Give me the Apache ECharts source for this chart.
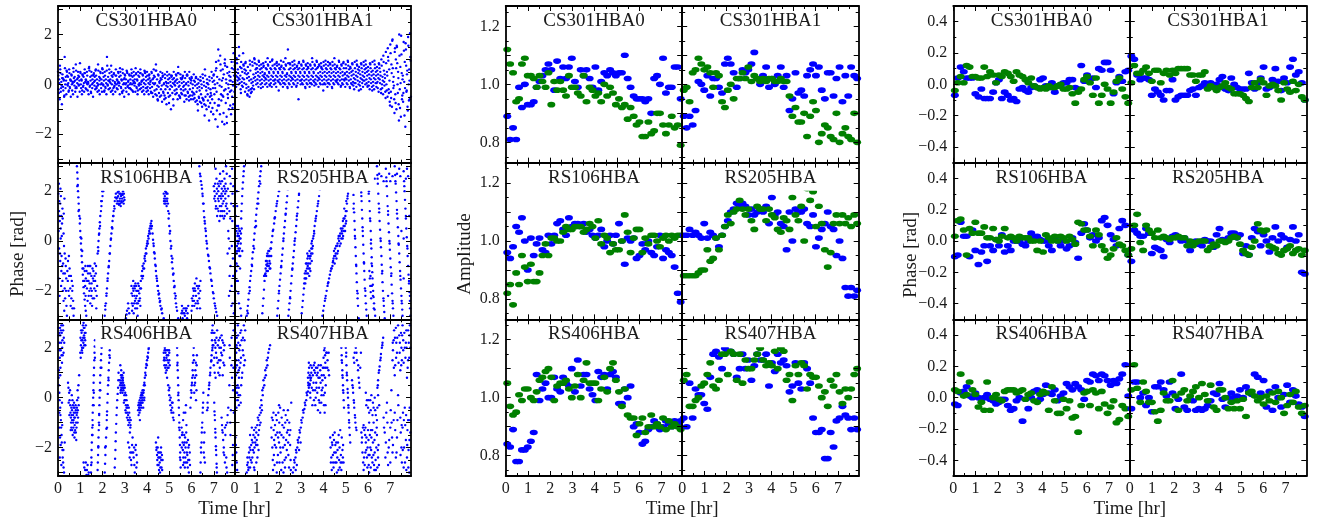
<!DOCTYPE html>
<html><head><meta charset="utf-8">
<script src="https://cdn.jsdelivr.net/npm/echarts@6/dist/echarts.min.js"></script>
<style>html,body{margin:0;padding:0;background:#fff}#c{width:1320px;height:522px}</style>
</head><body><div id="c"></div>
<script>
// ---------------- DATA ----------------
const stationNames = [['CS301HBA0','CS301HBA1'],['RS106HBA','RS205HBA'],['RS406HBA','RS407HBA']];
const xTickLabels = [0,1,2,3,4,5,6,7];

// sample times (hr) for the solution panels
const T60 = [0.07,0.20,0.33,0.47,0.60,0.73,0.86,0.99,1.13,1.26,
1.39,1.52,1.65,1.79,1.92,2.05,2.18,2.31,2.45,2.58,
2.71,2.84,2.97,3.11,3.24,3.37,3.50,3.63,3.77,3.90,
4.03,4.16,4.29,4.43,4.56,4.69,4.82,4.95,5.09,5.22,
5.35,5.48,5.61,5.75,5.88,6.01,6.14,6.27,6.41,6.54,
6.67,6.80,6.93,7.07,7.20,7.33,7.46,7.59,7.73,7.86];

// dense core-station phases (left column, top row): times and point layers
const csTimes = [0.0,0.1,0.2,0.3,0.4,0.5,0.6,0.7,0.8,0.9,1.0,1.1,1.2,1.3,1.4,1.5,1.6,1.7,1.8,1.9,
2.0,2.1,2.2,2.3,2.4,2.5,2.6,2.7,2.8,2.9,3.0,3.1,3.2,3.3,3.4,3.5,3.6,3.7,3.8,3.9,
4.0,4.1,4.2,4.3,4.4,4.5,4.6,4.7,4.8,4.9,5.0,5.1,5.2,5.3,5.4,5.5,5.6,5.7,5.8,5.9,
6.0,6.1,6.2,6.3,6.4,6.5,6.6,6.7,6.8,6.9,7.0,7.1,7.2,7.3,7.4,7.5,7.6,7.7,7.8,7.9];
const csLayerOffsets = [0,0.05,0.025,0.075,0.0125,0.0625,0.0375,0.0875];
const cs0_a = [0.5,0.6,0.4,1.1,0.5,0.6,0.4,0.5,0.8,0.5, 0.5,0.4,0.6,0.5,0.7,0.5,0.4,0.6,0.8,0.5,
0.6,0.5,1.1,0.6,0.5,0.4,0.6,0.5,0.5,0.6, 0.4,0.5,0.4,0.6,0.5,0.4,0.5,0.6,0.4,0.5,
0.5,0.4,0.5,0.6,0.8,0.4,0.5,0.3,0.4,0.5, 0.4,0.3,0.5,0.4,0.7,0.4,0.3,0.5,0.4,0.5,
0.3,0.4,0.3,0.2,0.3,0.4,0.6,0.2,0.3,0.5, 0.4,0.9,1.4,0.8,0.6,1.0,0.7,0.5,0.9,0.6];
const cs0_b = [0.2,0.1,0.2,0.3,0.3,0.2,0.1,0.3,0.2,0.3, 0.2,0.3,0.2,0.1,0.3,0.2,0.3,0.2,0.3,0.2,
0.3,0.2,0.3,0.2,0.3,0.1,0.2,0.3,0.2,0.2, 0.2,0.1,0.2,0.3,0.2,0.2,0.3,0.1,0.2,0.3,
0.2,0.1,0.2,0.3,0.2,0.1,0.2,0.0,0.1,0.2, 0.1,0.2,0.1,0.2,0.1,0.2,0.1,0.0,0.1,0.2,
0.0,0.1,0.0,-0.1,0.0,0.1,-0.1,0.0,-0.2,0.1, 0.0,0.3,0.2,-0.1,0.4,0.2,0.0,0.3,0.1,0.2];
const cs0_c = [-0.2,-0.3,-0.1,0.0,0.0,-0.1,0.0,0.1,-0.1,0.0, 0.0,-0.1,0.1,0.0,-0.1,0.0,0.1,-0.1,0.0,0.0,
0.0,-0.1,0.0,0.1,0.0,-0.1,0.0,0.1,-0.1,0.0, 0.0,-0.1,0.0,0.0,0.1,-0.1,0.0,0.0,-0.1,0.0,
-0.1,0.0,-0.1,0.0,-0.2,-0.1,-0.2,-0.3,-0.2,-0.1, -0.2,-0.1,0.0,-0.2,-0.1,-0.2,-0.1,-0.2,-0.3,-0.2,
-0.3,-0.4,-0.3,-0.5,-0.4,-0.6,-0.5,-0.4,-0.5,-0.6, -0.4,-0.3,-0.6,-0.4,-0.5,-0.2,-0.4,-0.3,-0.5,-0.3];
const cs0_d = [-0.6,-0.8,-0.5,-0.4,-0.3,-0.5,-0.4,-0.3,-0.5,-0.3, -0.4,-0.3,-0.2,-0.4,-0.3,-0.5,-0.2,-0.3,-0.4,-0.3,
-0.3,-0.4,-0.2,-0.3,-0.4,-0.3,-0.2,-0.4,-0.3,-0.5, -0.3,-0.4,-0.2,-0.3,-0.3,-0.4,-0.2,-0.3,-0.4,-0.3,
-0.4,-0.3,-0.5,-0.4,-0.6,-0.5,-0.7,-0.6,-0.8,-0.5, -1.0,-0.6,-0.4,-0.6,-0.5,-0.4,-0.7,-0.6,-0.5,-0.6,
-0.6,-0.7,-0.8,-0.7,-0.9,-0.8,-1.0,-0.9,-1.1,-1.2, -1.4,-1.7,-1.2,-1.5,-1.6,-1.3,-1.0,-1.2,-0.8,-0.6];
const cs0_e = [0.35,0.45,0.25,0.65,0.35,0.45,0.35,0.25,0.55,0.35, 0.45,0.35,0.45,0.35,0.55,0.35,0.45,0.35,0.55,0.45,
0.45,0.35,0.75,0.45,0.35,0.45,0.35,0.45,0.35,0.45, 0.35,0.45,0.35,0.45,0.35,0.45,0.35,0.45,0.35,0.45,
0.35,0.25,0.45,0.35,0.55,0.35,0.25,0.35,0.25,0.35, 0.25,0.35,0.25,0.35,0.45,0.25,0.35,0.25,0.35,0.25,
0.25,0.15,0.25,0.05,0.15,0.25,0.35,0.05,0.15,0.25, 0.15,0.65,0.95,0.55,0.25,0.75,0.45,0.15,0.65,0.35];
const cs0_f = [0.05,-0.05,0.15,0.15,0.05,0.15,0.05,0.15,0.05,0.15, 0.15,0.05,0.15,0.05,0.15,0.05,0.15,0.05,0.15,0.05,
0.15,0.05,0.15,0.05,0.15,0.05,0.15,0.05,0.15,0.05, 0.05,0.15,0.05,0.15,0.05,0.15,0.05,0.15,0.05,0.15,
0.05,0.15,0.05,0.05,-0.05,0.05,-0.05,0.05,-0.05,0.05, -0.05,0.05,-0.05,0.05,-0.05,0.05,-0.05,0.05,-0.05,0.05,
-0.15,-0.05,-0.15,-0.25,-0.15,-0.05,-0.25,-0.15,-0.35,-0.15, -0.15,0.05,-0.05,0.15,-0.25,0.05,-0.15,0.15,-0.05,0.05];
const cs0_g = [-0.35,-0.15,-0.25,-0.15,-0.05,-0.15,-0.25,-0.05,-0.15,-0.05, -0.15,-0.05,-0.15,-0.25,-0.05,-0.15,-0.05,-0.15,-0.25,-0.15,
-0.05,-0.15,-0.05,-0.15,-0.25,-0.05,-0.15,-0.05,-0.15,-0.25, -0.15,-0.05,-0.15,-0.25,-0.05,-0.15,-0.05,-0.15,-0.25,-0.15,
-0.25,-0.15,-0.35,-0.25,-0.45,-0.35,-0.45,-0.35,-0.55,-0.35, -0.45,-0.35,-0.25,-0.35,-0.45,-0.35,-0.25,-0.45,-0.35,-0.45,
-0.45,-0.55,-0.65,-0.55,-0.75,-0.65,-0.85,-0.65,-0.75,-0.95, -0.75,-1.05,-0.85,-0.65,-1.15,-0.75,-0.55,-0.85,-0.95,-0.65];
const cs0_h = [0.75,0.25,-0.45,0.55,-0.25,0.15,0.65,-0.15,0.25,0.85, -0.25,0.45,0.05,0.65,-0.35,0.35,0.55,-0.05,0.25,0.65,
-0.25,0.55,0.15,0.75,-0.15,0.35,0.05,0.65,-0.35,0.25, 0.55,-0.15,0.35,0.05,0.65,-0.25,0.45,0.15,0.55,-0.15,
0.35,-0.35,0.25,0.55,-0.65,0.15,0.45,-0.45,0.05,-0.75, 0.35,-0.85,0.15,0.45,-0.55,0.25,-0.45,0.35,-0.65,0.15,
-0.35,0.25,-1.05,0.15,-0.55,-1.25,0.05,-1.45,-0.45,0.35, 0.55,-0.85,1.15,-0.45,0.85,-1.55,0.35,-0.25,1.25,-0.35];
const cs1_a = [0.9,1.0,1.5,0.9,0.8,0.9,0.7,0.8,0.9,1.0, 0.8,0.9,0.8,0.7,0.9,0.8,0.9,1.0,0.8,0.9,
0.8,0.7,0.9,0.8,1.4,0.8,0.9,0.8,0.7,0.9, 0.8,0.9,0.8,0.7,0.8,0.9,0.8,0.9,0.8,0.7,
0.9,0.8,0.9,0.8,0.9,0.8,0.7,0.9,0.8,0.9, 0.8,0.9,0.7,0.8,0.9,0.8,0.7,0.8,0.9,0.8,
0.7,0.8,0.9,0.8,0.7,0.8,1.0,0.9,1.3,1.1, 1.6,1.8,1.3,1.5,2.0,1.2,1.7,1.4,1.9,1.1];
const cs1_b = [0.5,0.6,0.7,0.5,0.6,0.4,0.3,0.2,0.4,0.6, 0.5,0.6,0.5,0.4,0.6,0.5,0.6,0.5,0.6,0.5,
0.6,0.5,0.6,0.4,0.6,0.5,0.6,0.5,0.6,0.5, 0.6,0.5,0.6,0.5,0.6,0.5,0.6,0.7,0.5,0.6,
0.5,0.6,0.5,0.6,0.5,0.6,0.5,0.6,0.5,0.4, 0.5,0.6,0.5,0.4,0.5,0.6,0.4,0.5,0.6,0.5,
0.4,0.5,0.4,0.5,0.4,0.5,0.3,0.4,0.5,0.6, 0.8,0.3,1.0,0.5,0.7,0.2,0.9,0.4,0.6,0.3];
const cs1_c = [0.2,0.3,0.2,0.1,0.2,0.0,-0.1,-0.2,0.1,0.3, 0.2,0.3,0.2,0.3,0.2,0.3,0.2,0.3,0.2,0.3,
0.2,0.3,0.2,0.3,0.2,0.3,0.2,0.3,0.2,0.3, 0.2,0.3,0.2,0.3,0.2,0.3,0.2,0.3,0.2,0.3,
0.2,0.3,0.2,0.3,0.2,0.3,0.2,0.3,0.2,0.2, 0.2,0.3,0.2,0.1,0.2,0.3,0.1,0.2,0.3,0.2,
0.1,0.2,0.1,0.2,0.1,0.2,0.0,0.1,0.0,-0.2, -0.3,0.1,-0.4,0.0,-0.2,-0.6,0.1,-0.3,0.0,-0.5];
const cs1_d = [-0.1,0.0,-0.2,-0.1,-0.3,-0.4,-0.5,-0.3,-0.2,0.0, -0.1,0.0,-0.1,0.0,-0.1,0.0,-0.1,0.0,-0.1,0.1,
0.0,-0.1,0.0,-0.1,0.0,-0.1,0.0,-0.1,-0.6,0.0, 0.0,-0.1,0.0,-0.1,0.0,0.1,0.0,-0.1,0.0,0.0,
0.0,-0.1,0.0,-0.1,0.0,0.1,0.0,-0.1,0.0,-0.1, 0.0,-0.1,0.0,-0.2,-0.1,0.0,-0.2,-0.1,0.0,-0.1,
-0.2,-0.1,-0.2,-0.1,-0.3,-0.2,-0.4,-0.3,-0.5,-0.7, -0.9,-0.6,-1.0,-0.8,-1.3,-0.7,-1.7,-0.9,-0.6,-1.1];
const cs1_e = [0.75,0.85,1.15,0.65,0.75,0.55,0.45,0.55,0.75,0.85, 0.65,0.75,0.65,0.75,0.65,0.75,0.65,0.75,0.65,0.75,
0.65,0.75,0.65,0.75,0.85,0.65,0.75,0.65,0.75,0.65, 0.75,0.65,0.75,0.65,0.75,0.65,0.75,0.65,0.75,0.65,
0.75,0.65,0.75,0.65,0.75,0.65,0.75,0.65,0.75,0.65, 0.65,0.75,0.65,0.55,0.65,0.75,0.55,0.65,0.75,0.65,
0.55,0.65,0.55,0.65,0.55,0.65,0.75,0.55,0.85,0.95, 1.25,0.65,1.45,0.85,1.15,0.45,1.35,0.75,1.55,0.95];
const cs1_f = [0.35,0.45,0.35,0.25,0.45,0.25,0.15,0.05,0.25,0.45, 0.35,0.45,0.35,0.45,0.35,0.45,0.35,0.45,0.35,0.45,
0.35,0.45,0.35,0.45,0.35,0.45,0.35,0.45,0.35,0.45, 0.35,0.45,0.35,0.45,0.35,0.45,0.35,0.45,0.35,0.45,
0.35,0.45,0.35,0.45,0.35,0.45,0.35,0.45,0.35,0.45, 0.35,0.45,0.35,0.25,0.35,0.45,0.25,0.35,0.45,0.35,
0.25,0.35,0.25,0.35,0.25,0.35,0.15,0.25,0.35,0.15, 0.45,-0.05,0.65,0.25,0.05,0.35,-0.15,0.55,0.15,0.75];
const cs1_g = [0.05,0.15,0.05,-0.05,0.05,-0.15,-0.25,-0.35,-0.05,0.15, 0.05,0.15,0.05,0.15,0.05,0.15,0.05,0.15,0.05,0.15,
0.05,0.15,0.05,0.15,0.05,0.15,0.05,0.15,0.05,0.15, 0.05,0.15,0.05,0.15,0.05,0.15,0.05,0.15,0.05,0.15,
0.05,0.15,0.05,0.15,0.05,0.15,0.05,0.15,0.05,0.15, 0.05,0.15,0.05,-0.05,0.05,0.15,-0.05,0.05,0.15,0.05,
-0.05,0.05,-0.05,0.05,-0.15,0.05,-0.15,-0.05,-0.25,-0.35, -0.55,-0.15,-0.75,-0.35,-0.95,-0.45,-1.25,-0.25,-0.65,-0.85];
const cs1_h = [1.05,0.25,-0.35,1.25,0.85,-0.45,0.95,-0.15,1.05,0.65, 0.95,-0.15,0.85,0.25,1.05,-0.05,0.95,0.15,0.85,-0.25,
0.95,0.05,1.05,-0.15,0.85,0.25,0.95,-0.05,0.85,0.15, 0.95,-0.15,0.85,0.05,1.05,-0.05,0.95,0.25,0.85,-0.25,
0.95,0.05,0.85,-0.15,1.05,0.15,0.95,-0.05,0.85,0.25, 0.95,-0.15,0.85,0.05,0.95,-0.25,0.85,0.15,0.95,-0.05,
0.85,-0.25,0.95,0.05,0.85,-0.35,1.15,-0.55,1.45,-0.85, 1.75,-1.15,1.55,-1.45,1.95,-0.35,1.65,-1.05,2.05,-0.75];

// wrapped remote-station phases: flat [t, phase, t, phase, ...]
const wrap106 = [0.02,1.9,0.05,1.2,0.08,0.8,0.1,1.5,0.12,0.5,0.15,1.0,0.18,0.7,0.05,-0.3,0.1,-0.8,0.15,-1.2,0.2,-1.6,0.22,-2.0,0.25,-2.4,0.28,-2.8,0.3,-1.9,0.03,-1.5,0.07,-2.2,0.12,0.1,0.2,1.3,0.25,0.3,0.3,-0.5,0.35,-1.0,0.38,-2.6,0.4,-3.0,
0.45,-0.8,0.5,-1.4,0.55,-1.9,0.6,-2.3,0.65,-2.7,0.7,-3.0,0.5,-2.2,0.62,-1.6,
0.85,3.0,0.88,2.5,0.9,2.0,0.93,1.5,0.96,1.0,1.0,0.4,1.03,-0.1,1.06,-0.6,1.1,-1.1,1.13,-1.6,1.17,-2.1,1.22,-2.6,1.27,-3.0,
1.2,-1.2,1.25,-1.5,1.3,-1.9,1.35,-1.3,1.38,-2.2,1.42,-1.7,1.45,-2.5,1.5,-1.4,1.52,-2.0,1.55,-1.1,1.6,-1.6,1.62,-2.3,1.65,-0.9,1.7,-1.3,1.72,-2.7,1.45,-1.0,
1.78,-0.5,1.82,0.0,1.86,0.5,1.9,1.0,1.95,1.4,2.0,1.8,2.03,2.0,
2.1,-3.0,2.15,-2.5,2.2,-1.9,2.25,-1.3,2.3,-0.8,2.35,-0.2,2.4,0.3,2.45,0.8,2.5,1.2,2.55,1.6,2.6,1.9,
2.65,1.5,2.7,1.8,2.72,2.0,2.75,1.6,2.8,1.9,2.82,1.4,2.88,1.7,2.92,2.0,2.95,1.5,2.68,1.95,2.85,1.85,
3.05,-3.1,3.1,-2.8,3.15,-2.5,3.2,-2.9,
3.3,-1.8,3.35,-2.2,3.38,-1.6,3.42,-2.5,3.45,-1.9,3.5,-2.3,3.52,-2.0,3.55,-2.7,3.6,-1.7,3.62,-2.4,3.65,-2.1,3.7,-2.6,3.4,-2.9,3.58,-3.0,
3.72,-1.6,3.78,-1.2,3.85,-0.9,3.9,-0.6,3.95,-0.3,4.0,-0.1,4.05,0.2,4.1,0.4,4.15,0.6,4.2,0.8,3.82,-1.4,3.92,-0.8,
4.25,0.3,4.3,-0.2,4.35,-0.7,4.4,-1.2,4.45,-1.6,4.5,-2.0,4.55,-2.3,4.6,-2.6,4.68,-2.9,4.75,-3.1,
4.75,1.9,4.78,1.5,4.82,2.0,4.85,1.7,4.88,1.4,4.92,1.9,4.95,1.2,5.0,0.6,5.05,0.0,5.1,-0.6,5.15,-1.1,5.2,-1.6,5.25,-2.1,5.3,-2.5,5.35,-2.8,5.4,-3.1,
5.55,-2.9,5.6,-3.1,5.65,-2.7,5.7,-3.0,5.75,-2.8,5.8,-3.1,5.85,-2.6,
6.0,-2.8,6.05,-2.4,6.1,-2.0,6.12,-2.6,6.15,-1.7,6.2,-2.2,6.22,-1.5,6.25,-2.7,6.3,-1.9,6.35,-2.3,6.4,-1.6,
6.35,3.0,6.42,2.4,6.5,1.8,6.55,1.2,6.6,0.7,6.65,0.2,6.7,-0.3,6.78,-0.8,6.85,-1.3,6.92,-1.8,7.0,-2.3,7.08,-2.7,7.15,-3.0,6.47,2.1,6.62,0.5,
7.0,2.2,7.05,1.8,7.1,1.4,7.12,2.5,7.15,1.0,7.2,2.0,7.22,1.6,7.25,0.8,7.3,2.3,7.32,1.2,7.35,1.9,7.4,1.5,7.42,2.8,7.45,0.9,7.5,2.1,7.52,1.7,7.55,3.0,7.6,1.3,7.08,2.9,7.28,2.7,7.48,2.5,
7.65,0.4,7.7,-0.3,7.72,2.6,7.75,-1.0,7.78,1.5,7.8,-1.8,7.83,0.8,7.85,-2.5,7.88,2.2,7.9,-2.9,7.68,-2.2];
const wrap106_b = [0.03,0.4,0.06,1.6,0.09,-0.5,0.11,2.1,0.14,-1.8,0.17,0.2,0.19,-1.0,0.21,0.9,0.24,-1.3,0.27,-0.2,0.29,1.7,0.32,-2.3,0.34,-0.7,0.37,-1.5,0.42,-1.2,0.47,-2.0,0.52,-1.1,0.57,-2.6,0.64,-2.0,0.68,-2.4,
0.865,2.75,0.89,2.25,0.915,1.75,0.945,1.25,0.98,0.7,1.015,0.15,1.045,-0.35,1.08,-0.85,1.115,-1.35,1.15,-1.85,1.195,-2.35,1.245,-2.8,
1.22,-1.8,1.28,-1.2,1.33,-2.4,1.37,-1.6,1.4,-1.0,1.47,-1.9,1.53,-2.6,1.57,-1.5,1.63,-1.9,1.67,-1.6,1.74,-2.2,1.8,-0.25,1.84,0.25,1.88,0.75,1.93,1.2,1.97,1.6,
2.125,-2.75,2.175,-2.2,2.225,-1.6,2.275,-1.05,2.325,-0.5,2.375,0.05,2.425,0.55,2.475,1.0,2.525,1.4,2.575,1.75,
2.66,1.75,2.74,1.45,2.78,1.7,2.84,1.6,2.9,1.85,2.97,1.75,3.08,-2.95,3.17,-2.7,
3.32,-2.5,3.37,-1.9,3.44,-2.2,3.48,-1.7,3.53,-2.5,3.57,-2.0,3.63,-1.8,3.68,-2.3,3.33,-2.8,3.47,-2.7,
3.75,-1.4,3.8,-1.0,3.87,-1.1,3.97,-0.5,4.02,0.0,4.07,0.1,4.12,0.5,4.17,0.7,4.22,0.6,
4.27,0.05,4.32,-0.45,4.37,-0.95,4.42,-1.4,4.47,-1.8,4.52,-2.15,4.57,-2.45,4.64,-2.75,
4.77,1.7,4.8,1.8,4.87,1.9,4.9,1.6,4.97,0.9,5.02,0.3,5.07,-0.3,5.12,-0.85,5.17,-1.35,5.22,-1.85,5.27,-2.3,5.32,-2.65,
5.58,-2.8,5.68,-2.9,5.78,-2.7,6.03,-2.6,6.08,-2.2,6.17,-2.0,6.27,-2.4,6.32,-2.1,6.38,-2.7,
6.38,2.7,6.45,2.25,6.52,1.5,6.57,0.95,6.67,0.0,6.74,-0.55,6.81,-1.05,6.88,-1.55,6.96,-2.05,7.04,-2.5,7.11,-2.85,
7.03,2.0,7.07,1.6,7.13,1.9,7.17,1.3,7.18,2.3,7.23,2.2,7.27,1.4,7.33,1.7,7.37,2.4,7.38,1.0,7.43,2.0,7.47,1.2,7.53,2.3,7.57,1.5,7.58,2.7,
7.62,-0.5,7.66,1.8,7.71,-1.4,7.74,0.9,7.79,-2.6,7.82,2.9,7.86,-0.7,7.89,1.4];
const wrap106_c = [0.04,2.3,0.07,1.0,0.13,1.8,0.16,-0.6,0.23,-0.9,0.26,1.1,0.31,-1.3,0.36,-2.0,0.44,-1.6,0.49,-0.6,0.58,-1.4,0.66,-1.8,0.72,-2.7,
0.87,2.2,0.92,1.2,0.99,0.9,1.05,0.1,1.09,-0.4,1.14,-1.1,1.19,-1.6,1.24,-2.2,
1.23,-1.0,1.31,-1.6,1.34,-1.0,1.41,-2.0,1.44,-1.3,1.49,-2.2,1.51,-1.7,1.56,-2.3,1.59,-1.2,1.64,-1.4,1.69,-2.0,1.71,-1.0,1.76,-1.8,
1.81,-0.4,1.85,0.3,1.89,0.6,1.94,1.6,1.99,2.0,
2.12,-2.6,2.18,-2.1,2.23,-1.5,2.28,-1.0,2.33,-0.5,2.38,0.1,2.44,0.5,2.49,1.0,2.54,1.3,
2.63,1.7,2.67,1.6,2.71,1.5,2.76,1.9,2.79,1.5,2.83,1.8,2.86,1.55,2.89,1.9,2.93,1.6,2.96,1.9,2.99,1.65,
3.31,-2.1,3.36,-2.6,3.39,-2.0,3.43,-1.8,3.46,-2.4,3.51,-1.8,3.54,-2.2,3.59,-2.5,3.61,-2.0,3.66,-2.4,3.69,-1.9,3.73,-1.9,
3.79,-1.5,3.83,-1.1,3.89,-0.7,3.94,-0.5,3.99,-0.2,4.04,-0.1,4.09,0.3,4.14,0.3,4.19,0.5,
4.29,-0.1,4.34,-0.5,4.39,-1.0,4.44,-1.5,4.49,-1.8,4.54,-2.1,4.59,-2.4,4.66,-2.7,
4.76,1.6,4.81,1.6,4.84,1.5,4.86,1.95,4.91,1.7,4.94,1.5,4.99,1.1,5.04,0.4,5.09,-0.2,5.14,-0.7,5.19,-1.3,5.24,-1.8,5.29,-2.2,
5.57,-2.6,5.62,-2.9,5.72,-2.7,5.82,-2.9,
6.02,-2.3,6.07,-1.9,6.11,-2.4,6.14,-1.9,6.19,-2.5,6.24,-1.8,6.29,-2.5,6.34,-1.8,6.39,-2.0,
6.4,2.6,6.49,1.9,6.54,1.5,6.59,0.8,6.64,0.4,6.69,-0.1,6.76,-0.6,6.83,-1.1,6.9,-1.6,6.98,-2.1,7.06,-2.6,
7.02,1.7,7.06,2.3,7.09,1.3,7.14,2.1,7.19,1.7,7.21,1.2,7.24,1.8,7.26,2.4,7.29,1.0,7.31,1.8,7.34,1.4,7.36,2.1,7.39,1.2,7.41,1.8,7.44,1.6,7.46,2.2,7.49,1.0,7.51,1.9,7.54,1.4,7.56,2.0,7.59,1.1,
7.63,2.1,7.67,0.1,7.7,1.2,7.73,-2.0,7.76,2.3,7.81,-0.2,7.84,1.9,7.87,-1.4];

const wrap205 = [0.02,-2.8,0.05,-2.0,0.08,-1.2,0.1,-0.5,0.12,0.0,0.15,0.3,0.18,-0.3,0.2,0.2,0.22,-0.6,0.25,0.4,0.28,-0.1,0.3,0.9,0.33,1.5,0.36,2.1,0.4,2.6,0.43,3.0,0.05,1.0,0.1,2.0,0.15,-1.6,0.2,-2.5,0.3,-3.0,0.08,0.6,0.35,-0.4,0.25,-1.1,
0.55,-3.0,0.6,-2.6,0.65,-2.1,0.7,-1.6,0.75,-1.2,0.8,-0.7,0.85,-0.2,0.9,0.3,0.95,0.8,1.0,1.3,1.05,1.7,1.1,2.2,1.15,2.6,1.2,3.0,
1.25,-2.9,1.3,-2.3,1.35,-1.6,1.4,-1.1,1.45,-0.8,1.5,-1.2,1.55,-0.6,1.6,-0.9,1.42,-1.4,1.52,-0.4,1.62,-0.3,1.7,0.2,1.78,0.7,1.85,1.2,1.92,1.6,2.0,2.0,2.08,2.5,2.12,3.0,
1.92,-3.0,1.97,-2.4,2.02,-1.8,2.07,-1.3,2.12,-0.8,2.17,-0.3,2.22,0.3,2.27,0.8,2.32,1.3,2.37,1.8,2.42,2.3,2.47,2.8,
2.42,-3.0,2.47,-2.5,2.52,-2.0,2.57,-1.4,2.62,-0.9,2.67,-0.4,2.72,0.1,2.77,0.6,2.82,1.1,2.87,1.6,2.92,2.1,2.97,2.6,3.0,3.0,
3.02,-2.9,3.07,-2.4,3.12,-1.9,3.15,-1.5,3.2,-1.2,3.25,-0.9,3.3,-1.3,3.35,-0.6,3.4,-0.9,3.45,-0.3,3.5,-0.5,3.18,-1.7,3.28,-0.7,3.38,-1.1,3.48,0.0,3.55,0.2,3.6,0.6,3.67,1.0,3.73,1.4,3.8,1.8,3.87,2.3,3.92,2.8,
3.95,-3.0,4.02,-2.6,4.1,-2.2,4.18,-1.8,4.25,-1.5,4.32,-1.2,4.4,-1.0,4.45,-0.7,4.5,-0.9,4.55,-0.5,4.6,-0.2,4.65,-0.4,4.7,0.0,4.75,0.3,4.8,0.1,4.85,0.5,4.9,0.9,4.95,0.6,5.0,1.2,5.05,1.5,4.88,0.2,5.1,1.9,5.15,2.3,5.2,2.8,
5.3,2.9,5.33,2.2,5.36,1.5,5.39,0.8,5.42,0.1,5.45,-0.6,5.48,-1.3,5.51,-2.0,5.55,-2.6,5.58,-3.1,
5.65,3.0,5.68,2.3,5.71,1.6,5.74,0.9,5.77,0.2,5.8,-0.5,5.83,-1.2,5.86,-1.9,5.9,-2.5,5.94,-3.0,
6.0,2.8,6.04,2.0,6.08,1.2,6.12,0.4,6.15,-0.3,6.18,-1.0,6.2,-1.5,6.23,-2.0,6.27,-2.5,6.32,-3.0,6.1,-1.8,6.14,-2.3,6.06,-1.2,
6.4,3.0,6.44,2.3,6.48,1.5,6.52,0.8,6.56,0.1,6.6,-0.6,6.63,-1.3,6.67,-2.0,6.71,-2.6,6.75,-3.1,
6.8,2.9,6.84,2.2,6.88,1.4,6.92,0.7,6.96,0.0,7.0,-0.7,7.04,-1.4,7.08,-2.1,7.12,-2.7,
7.2,3.0,7.24,2.3,7.28,1.6,7.32,0.9,7.36,0.2,7.4,-0.5,7.44,-1.2,7.48,-1.9,7.52,-2.5,7.55,-3.0,
7.6,2.8,7.64,2.0,7.68,1.3,7.72,0.5,7.76,-0.2,7.8,-1.0,7.84,-1.7,7.88,-2.4,7.9,-3.0,
7.0,2.4,7.3,2.7,7.7,2.5,6.6,2.6,7.5,0.4,7.85,1.0,6.9,-2.2,7.6,-1.5];
const wrap205_b = [0.03,-2.4,0.07,-1.6,0.09,-0.9,0.11,-0.2,0.13,0.2,0.16,-0.1,0.19,0.5,0.21,-0.4,0.23,0.1,0.26,-0.6,0.29,0.3,0.31,1.2,0.345,1.8,0.38,2.35,0.415,2.8,0.12,1.4,0.17,-2.1,0.27,-2.7,0.06,-0.4,
0.575,-2.8,0.625,-2.35,0.675,-1.85,0.725,-1.4,0.775,-0.95,0.825,-0.45,0.875,0.05,0.925,0.55,0.975,1.05,1.025,1.5,1.075,1.95,1.125,2.4,1.175,2.8,
1.275,-2.6,1.325,-1.95,1.37,-1.35,1.43,-0.95,1.47,-1.0,1.57,-0.8,1.58,-1.1,1.66,-0.05,1.74,0.45,1.815,0.95,1.885,1.4,1.96,1.8,2.04,2.25,1.48,-0.5,1.65,-0.6,
1.945,-2.7,1.995,-2.1,2.045,-1.55,2.095,-1.05,2.145,-0.55,2.195,0.0,2.245,0.55,2.295,1.05,2.345,1.55,2.395,2.05,2.445,2.55,
2.445,-2.75,2.495,-2.25,2.545,-1.7,2.595,-1.15,2.645,-0.65,2.695,-0.15,2.745,0.35,2.795,0.85,2.845,1.35,2.895,1.85,2.945,2.35,2.985,2.8,
3.045,-2.65,3.095,-2.15,3.13,-1.7,3.22,-1.5,3.26,-1.1,3.32,-0.9,3.36,-1.4,3.42,-0.6,3.47,-0.8,3.52,-0.2,3.575,0.4,3.635,0.8,3.7,1.2,3.765,1.6,3.835,2.05,3.895,2.55,
3.985,-2.8,4.06,-2.4,4.14,-2.0,4.215,-1.65,4.285,-1.35,4.36,-1.1,4.42,-0.85,4.48,-0.6,4.52,-0.3,4.58,-0.7,4.63,-0.1,4.68,0.2,4.72,-0.2,4.78,0.5,4.83,0.3,4.87,0.8,4.92,0.4,4.98,1.0,5.02,0.8,5.075,1.7,5.125,2.1,5.175,2.55,
5.315,2.55,5.345,1.85,5.375,1.15,5.405,0.45,5.435,-0.25,5.465,-0.95,5.495,-1.65,5.53,-2.3,
5.665,2.65,5.695,1.95,5.725,1.25,5.755,0.55,5.785,-0.15,5.815,-0.85,5.845,-1.55,5.88,-2.2,5.92,-2.75,
6.02,2.4,6.06,1.6,6.1,0.8,6.135,0.05,6.165,-0.65,6.19,-1.25,6.215,-1.75,6.25,-2.25,6.295,-2.75,6.08,-1.5,6.12,-2.05,
6.42,2.65,6.46,1.9,6.5,1.15,6.54,0.45,6.58,-0.25,6.615,-0.95,6.65,-1.65,6.69,-2.3,6.73,-2.85,
6.82,2.55,6.86,1.8,6.9,1.05,6.94,0.35,6.98,-0.35,7.02,-1.05,7.06,-1.75,7.1,-2.4,7.14,-3.0,
7.22,2.65,7.26,1.95,7.3,1.25,7.34,0.55,7.38,-0.15,7.42,-0.85,7.46,-1.55,7.5,-2.2,7.535,-2.75,
7.62,2.4,7.66,1.65,7.7,0.9,7.74,0.15,7.78,-0.6,7.82,-1.35,7.86,-2.05,7.89,-2.7,
7.1,2.6,7.4,2.9,7.8,2.6,6.7,2.4,7.6,0.1,6.3,2.5];
const wrap205_c = [0.04,-0.2,0.09,0.4,0.14,-0.4,0.16,0.6,0.19,0.0,0.22,0.4,0.24,-0.3,0.27,0.1,0.32,0.5,0.14,-1.0,
0.6,-2.9,0.69,-2.0,0.79,-1.0,0.88,-0.3,0.97,0.6,1.07,1.5,1.16,2.3,
1.33,-1.4,1.39,-1.3,1.41,-0.8,1.44,-1.2,1.46,-0.6,1.49,-0.9,1.51,-0.6,1.54,-1.0,1.56,-0.4,1.59,-0.6,1.61,-1.1,1.64,-0.3,1.72,0.4,1.8,0.9,1.9,1.5,2.02,2.1,
2.0,-2.0,2.1,-1.0,2.2,0.1,2.3,1.1,2.4,2.1,
2.5,-2.3,2.6,-1.1,2.7,0.0,2.8,1.0,2.9,1.9,
3.16,-1.3,3.19,-1.5,3.21,-0.9,3.24,-1.3,3.27,-0.5,3.29,-1.0,3.31,-0.6,3.34,-1.1,3.37,-0.4,3.39,-0.7,3.41,-1.2,3.44,-0.5,3.46,-0.1,3.49,-0.3,3.53,0.1,3.58,0.3,3.65,0.9,3.75,1.5,3.85,2.2,
4.08,-2.3,4.2,-1.7,4.35,-1.1,4.43,-0.8,4.47,-0.4,4.53,-0.6,4.57,-0.2,4.62,-0.5,4.67,0.1,4.73,0.2,4.77,-0.1,4.82,0.4,4.86,0.1,4.9,0.6,4.94,0.9,4.97,0.4,5.0,0.7,5.04,1.2,5.08,1.8,4.93,1.3,5.02,1.6,
5.35,1.3,5.41,0.2,5.47,-1.0,5.53,-2.1,
5.7,1.8,5.76,0.4,5.82,-0.9,5.88,-2.0,
6.03,1.9,6.09,0.9,6.13,-0.1,6.16,-0.9,6.11,-1.4,6.17,-1.8,6.22,-2.2,6.26,-2.7,
6.43,2.5,6.5,1.3,6.57,0.0,6.64,-1.2,6.7,-2.4,
6.83,2.4,6.9,1.2,6.97,-0.1,7.05,-1.3,7.11,-2.5,
7.23,2.4,7.3,1.1,7.37,-0.1,7.45,-1.4,7.51,-2.4,
7.63,2.2,7.7,1.0,7.77,-0.3,7.84,-1.6,7.88,-2.2,
6.95,2.7,7.45,2.6,7.75,2.9,6.5,2.7];

const wrap406 = [0.02,2.8,0.05,2.2,0.08,1.6,0.1,2.5,0.12,1.9,0.15,2.9,0.18,1.4,0.2,2.3,0.25,1.8,0.03,0.8,0.06,0.2,0.1,-0.4,0.13,-0.9,0.16,-1.5,0.2,-2.1,0.23,-2.6,0.27,-3.0,0.05,-1.2,0.08,-2.4,0.18,-0.2,0.3,-1.8,
0.45,0.6,0.5,0.2,0.55,-0.3,0.58,-0.8,0.6,-1.2,0.63,-0.5,0.66,-1.5,0.7,-0.9,0.72,-0.2,0.75,-1.1,0.78,-0.6,0.8,-1.4,0.85,-0.4,0.88,0.3,0.9,-0.8,0.95,0.9,0.62,0.1,0.82,-1.7,0.68,-0.7,
1.0,1.8,1.05,2.3,1.08,2.0,1.1,2.7,1.13,2.4,1.15,3.0,1.18,2.1,1.2,2.6,1.25,2.9,1.02,1.6,
1.15,-2.6,1.22,-2.9,1.28,-3.1,1.33,-2.7,1.38,-3.0,
1.48,-3.0,1.5,-2.4,1.52,-1.8,1.54,-1.2,1.56,-0.6,1.58,0.0,1.6,0.6,1.62,1.2,1.64,1.8,1.66,2.3,1.55,-1.5,1.6,-0.3,
1.78,-2.9,1.8,-2.3,1.82,-1.6,1.84,-1.0,1.86,-0.3,1.88,0.3,1.9,0.9,1.93,1.5,1.96,2.0,1.85,-0.7,
2.1,-3.0,2.13,-2.3,2.16,-1.6,2.19,-0.9,2.22,-0.2,2.25,0.5,2.28,1.1,2.31,1.7,2.34,2.1,2.2,-1.2,
2.55,-2.8,2.58,-2.1,2.6,-1.4,2.63,-0.7,2.66,-0.1,2.7,0.4,2.72,1.0,
2.78,0.7,2.82,0.3,2.85,0.8,2.88,0.5,2.9,0.2,2.93,0.6,2.96,-0.2,3.0,0.4,3.03,-0.5,3.06,0.1,3.1,-0.8,3.13,-0.3,3.16,-1.1,3.2,-0.6,3.23,-1.4,3.27,-0.9,2.8,1.3,2.95,1.0,
3.15,-1.8,3.25,-2.2,3.3,-2.7,3.35,-1.6,3.4,-2.4,3.45,-3.0,3.5,-1.9,3.55,-2.6,
3.6,-0.5,3.63,-0.2,3.66,-0.6,3.7,0.0,3.72,-0.3,3.75,0.2,3.78,-0.1,3.8,0.3,3.83,-0.4,3.86,0.5,3.9,0.8,3.95,1.2,4.0,1.5,4.05,1.8,4.1,2.1,3.68,-0.9,3.88,0.0,
4.4,-1.8,4.45,-2.3,4.48,-2.0,4.52,-2.7,4.55,-2.4,4.58,-3.0,4.62,-2.2,4.65,-2.8,4.7,-2.5,4.5,-1.6,
4.75,1.8,4.78,1.3,4.8,2.0,4.84,1.0,4.87,1.6,4.9,0.8,4.93,1.9,4.97,1.2,5.0,1.5,5.03,2.1,
4.95,0.5,5.0,0.1,5.05,-0.3,5.1,-0.6,5.15,-0.2,5.2,-0.9,
5.35,2.0,5.37,1.4,5.39,0.8,5.41,0.2,5.43,-0.4,5.45,-1.0,5.47,-1.6,5.49,-2.2,5.51,-2.8,
5.55,-1.2,5.6,-1.8,5.63,-2.4,5.67,-1.5,5.7,-2.8,5.73,-2.0,5.77,-1.1,5.8,-2.6,5.84,-1.7,5.88,-3.0,5.92,-2.2,5.65,-0.6,5.75,-0.3,
5.95,-0.4,6.0,0.2,6.03,0.8,6.06,1.4,6.1,2.0,6.13,0.5,6.17,1.1,6.2,-0.1,6.24,1.7,
6.4,-3.0,6.43,-2.2,6.46,-1.4,6.5,-0.6,6.53,0.2,6.56,-1.8,6.6,-2.6,
6.7,-0.5,6.75,0.1,6.8,0.6,6.85,1.2,6.9,1.7,6.95,2.1,
6.9,2.6,6.95,2.9,7.0,1.3,7.05,2.3,7.1,1.8,7.15,2.7,7.2,1.0,7.25,2.0,7.3,1.5,7.35,2.5,7.4,0.9,7.45,1.9,7.08,0.8,
7.02,-0.2,7.05,-0.9,7.08,-1.6,7.11,-2.3,7.14,-3.0,
7.35,-0.8,7.4,-1.4,7.45,-2.0,7.5,-2.6,7.55,-1.1,7.6,-3.0,7.65,-0.4,
7.7,0.5,7.75,-1.5,7.8,2.4,7.85,-2.3,7.88,1.2,7.9,-0.6];
const wrap406_b = [0.03,2.5,0.06,1.9,0.09,2.8,0.11,1.2,0.14,2.2,0.17,2.6,0.21,1.7,0.23,2.7,0.28,2.2,0.04,0.5,0.07,-0.1,0.11,-0.7,0.14,-1.2,0.17,-1.8,0.21,-2.4,0.25,-2.8,0.09,-1.6,0.15,-2.7,
0.47,0.4,0.52,-0.1,0.56,-0.6,0.59,-1.0,0.61,-0.7,0.64,-1.3,0.67,-0.3,0.69,-1.2,0.71,-0.6,0.73,-1.4,0.76,-0.8,0.79,-0.3,0.81,-1.0,0.84,-0.7,0.86,-0.1,0.89,-0.5,0.92,0.5,0.74,-1.6,
1.03,2.1,1.06,2.6,1.09,1.8,1.12,2.9,1.14,2.2,1.17,2.5,1.19,2.8,1.22,2.3,1.24,2.6,
1.18,-2.8,1.25,-2.6,1.3,-2.9,1.36,-3.1,
1.49,-2.7,1.51,-2.1,1.53,-1.5,1.55,-0.9,1.57,-0.3,1.59,0.3,1.61,0.9,1.63,1.5,1.65,2.05,
1.79,-2.6,1.81,-1.95,1.83,-1.3,1.85,-0.65,1.87,0.0,1.89,0.6,1.915,1.2,1.945,1.75,
2.115,-2.65,2.145,-1.95,2.175,-1.25,2.205,-0.55,2.235,0.15,2.265,0.8,2.295,1.4,2.325,1.9,
2.565,-2.45,2.59,-1.75,2.615,-1.05,2.645,-0.4,2.68,0.15,2.71,0.7,
2.79,0.5,2.81,0.6,2.84,0.4,2.86,0.6,2.89,0.7,2.91,0.4,2.94,0.3,2.98,0.1,3.01,-0.1,3.05,-0.3,3.08,-0.4,3.11,-0.6,3.15,-0.7,3.18,-0.9,3.21,-1.0,3.25,-1.2,2.87,0.9,2.92,0.8,
3.2,-2.0,3.28,-2.5,3.33,-1.9,3.38,-2.2,3.43,-2.7,3.48,-2.1,3.53,-2.3,
3.61,-0.3,3.64,-0.4,3.67,-0.1,3.69,-0.5,3.71,-0.2,3.74,0.0,3.76,-0.2,3.79,0.1,3.81,0.0,3.84,0.2,3.88,0.6,3.92,1.0,3.97,1.35,4.02,1.65,4.07,1.95,
4.42,-2.1,4.46,-2.5,4.5,-2.2,4.54,-2.9,4.57,-2.6,4.6,-2.4,4.64,-2.5,4.68,-2.9,
4.76,1.5,4.79,1.9,4.82,1.2,4.85,1.9,4.88,1.1,4.91,1.5,4.95,1.7,4.99,1.9,5.02,1.3,
4.98,0.3,5.03,-0.1,5.08,-0.5,5.13,-0.4,5.18,-0.6,
5.36,1.7,5.38,1.1,5.4,0.5,5.42,-0.1,5.44,-0.7,5.46,-1.3,5.48,-1.9,5.5,-2.5,
5.57,-1.5,5.61,-2.1,5.66,-2.6,5.69,-1.8,5.72,-2.4,5.76,-1.4,5.79,-2.2,5.83,-2.8,5.86,-2.0,5.9,-2.5,5.62,-0.9,5.72,-0.6,
5.97,0.0,6.01,0.5,6.05,1.1,6.08,1.7,6.12,0.2,6.15,0.8,6.19,1.4,6.22,0.3,
6.41,-2.6,6.45,-1.8,6.48,-1.0,6.52,-0.2,6.55,-2.2,6.58,-1.4,
6.72,-0.2,6.78,0.35,6.83,0.9,6.88,1.45,6.93,1.9,
6.92,2.3,6.97,2.6,7.02,1.6,7.07,2.0,7.12,2.4,7.17,1.4,7.22,2.3,7.27,1.2,7.32,2.0,7.37,1.7,7.42,2.2,7.47,1.3,
7.03,-0.55,7.065,-1.25,7.095,-1.95,7.125,-2.65,
7.37,-1.1,7.42,-1.7,7.47,-2.3,7.52,-1.5,7.57,-2.8,7.62,-0.7,
7.72,1.6,7.77,-0.5,7.82,0.8,7.86,-1.9,7.89,2.7];
const wrap406_c = [0.04,1.1,0.07,2.6,0.1,0.9,0.13,2.7,0.16,1.7,0.19,2.0,0.22,2.9,0.26,2.4,0.06,-0.6,0.12,-1.9,0.19,-1.1,0.24,-2.1,
0.48,-0.2,0.51,-0.7,0.54,0.3,0.57,-1.3,0.6,-0.4,0.63,-0.9,0.65,-0.1,0.68,-1.0,0.7,-0.4,0.73,-0.8,0.75,-0.4,0.77,-1.3,0.8,-0.5,0.83,-1.2,0.86,-0.6,0.88,-1.0,0.91,0.0,0.93,-0.3,
1.01,2.4,1.04,2.7,1.07,1.9,1.1,2.3,1.13,2.0,1.16,2.8,1.19,2.4,1.23,2.1,
1.51,-2.6,1.56,-1.1,1.61,0.2,1.66,1.6,
1.81,-2.0,1.85,-1.1,1.9,0.3,1.95,1.2,
2.12,-2.0,2.2,-0.7,2.27,0.7,2.33,1.6,
2.81,0.2,2.83,0.9,2.86,0.3,2.88,0.9,2.91,0.7,2.94,0.4,2.97,0.5,2.99,-0.1,3.02,0.2,3.05,-0.6,3.08,-0.1,3.11,-0.4,3.14,-0.9,3.18,-0.4,3.22,-0.8,3.26,-1.1,2.84,1.1,
3.22,-2.4,3.32,-2.2,3.42,-2.0,3.52,-2.8,
3.62,-0.7,3.65,-0.3,3.67,-0.4,3.7,-0.2,3.73,0.1,3.75,-0.4,3.77,0.1,3.8,-0.2,3.82,0.2,3.85,0.3,3.87,-0.1,3.9,0.5,3.94,0.9,3.99,1.3,4.04,1.6,4.08,2.0,
4.43,-2.0,4.47,-2.7,4.51,-2.4,4.56,-2.2,4.6,-2.8,4.63,-2.0,4.67,-2.3,
4.77,1.6,4.8,1.5,4.83,1.8,4.86,1.3,4.89,1.7,4.92,1.2,4.96,1.4,5.0,1.8,5.01,0.4,5.06,0.0,5.12,-0.2,5.17,-0.8,
5.36,1.3,5.4,0.1,5.44,-1.2,5.48,-2.4,
5.56,-2.0,5.59,-1.4,5.62,-2.7,5.65,-1.9,5.68,-2.2,5.71,-1.6,5.74,-2.6,5.78,-1.8,5.81,-2.3,5.85,-2.5,5.89,-1.9,5.93,-2.7,
5.98,0.3,6.02,0.6,6.07,0.9,6.11,1.5,6.16,0.6,6.21,0.9,6.23,1.3,
6.42,-2.0,6.47,-1.2,6.51,-0.4,6.57,-2.4,
6.73,-0.4,6.79,0.5,6.84,1.0,6.89,1.5,6.94,2.0,
6.93,2.7,6.98,2.1,7.03,2.6,7.08,2.2,7.13,1.6,7.18,2.1,7.23,1.5,7.28,2.4,7.33,1.8,7.38,2.3,7.43,1.4,7.48,2.1,7.04,1.0,7.26,0.9,
7.04,-0.7,7.07,-1.4,7.1,-2.1,7.13,-2.8,
7.38,-1.3,7.44,-2.2,7.5,-1.2,7.56,-2.4,7.61,-1.0,
7.71,2.1,7.74,-1.0,7.79,1.3,7.83,-2.7,7.87,0.3];

const wrap407 = [0.02,0.6,0.05,1.2,0.08,1.8,0.1,2.4,0.12,0.2,0.15,2.9,0.18,1.5,0.2,0.8,0.25,2.1,0.3,2.7,0.35,1.0,0.4,1.7,0.45,2.3,0.05,-0.1,0.1,0.4,0.2,-0.3,0.3,0.5,0.03,-1.0,0.08,-2.2,0.12,-2.9,
0.55,-3.0,0.6,-2.6,0.65,-2.2,0.7,-2.8,0.75,-1.9,0.8,-2.4,0.85,-1.5,0.9,-2.0,0.95,-1.2,1.0,-1.7,1.05,-0.8,1.1,-1.3,1.15,-0.4,1.2,-0.1,1.25,0.3,1.3,0.7,1.38,1.1,1.45,1.5,1.52,1.8,1.6,2.1,0.78,-1.2,0.98,-2.6,1.08,-2.1,
1.65,-1.2,1.7,-2.0,1.75,-0.6,1.8,-2.7,1.85,-1.5,1.9,-0.9,1.95,-2.3,2.0,-1.8,2.05,-0.4,2.1,-2.9,2.15,-1.1,2.2,-1.6,2.25,-2.5,2.3,-0.7,2.35,-2.1,2.4,-1.3,2.45,-2.8,2.5,-1.9,2.55,-0.2,1.78,-1.7,2.02,-2.6,2.28,-1.0,
2.5,2.1,2.55,2.6,2.6,3.0,2.65,2.3,
2.62,-3.0,2.7,-2.6,2.78,-2.2,2.86,-1.8,2.94,-1.4,3.02,-1.0,3.1,-0.6,3.18,-0.3,3.26,0.1,3.34,0.4,3.42,0.7,2.75,-2.9,2.9,-2.1,
3.3,0.8,3.35,1.2,3.4,0.2,3.45,1.0,3.5,-0.3,3.55,0.6,3.6,1.4,3.65,0.0,3.7,0.9,3.75,-0.5,3.8,0.4,3.85,1.1,3.9,-0.2,3.95,0.7,4.0,0.1,4.05,-0.6,4.1,0.5,3.62,0.3,3.78,1.3,3.92,0.9,
4.0,1.6,4.05,2.0,4.1,1.2,4.15,1.8,4.2,2.1,4.25,0.9,
4.3,-1.6,4.35,-2.4,4.4,-1.9,4.45,-2.8,4.5,-1.4,4.55,-2.2,4.6,-3.0,4.65,-1.8,4.7,-2.5,4.75,-1.3,4.8,-2.9,4.85,-2.1,4.9,-2.6,
4.8,2.0,4.83,1.4,4.86,0.8,4.89,0.2,4.92,-0.4,
5.0,2.0,5.03,1.3,5.06,0.7,5.1,0.0,5.13,-0.6,5.16,-1.2,5.2,-1.8,
5.28,0.7,5.33,0.2,5.38,-0.4,5.43,-1.0,5.48,-1.3,5.35,1.6,5.45,2.0,5.55,1.1,5.62,0.4,5.68,1.8,
5.7,-1.4,5.75,-2.2,5.8,-1.1,5.85,-2.7,5.9,-1.8,5.95,-2.4,6.0,-1.3,6.05,-3.0,6.1,-2.0,6.15,-1.6,6.2,-2.6,6.25,-1.0,6.3,-2.2,6.35,-2.9,6.4,-1.5,6.45,-2.4,5.88,-1.2,6.12,-2.8,
5.9,0.2,6.0,-0.4,6.1,-0.1,6.2,-0.7,6.3,0.0,6.4,-0.9,6.5,-0.3,
6.42,0.4,6.48,1.0,6.55,1.5,6.62,2.0,6.68,2.4,
6.7,-0.8,6.8,-1.8,6.85,-0.2,6.9,-2.7,7.0,-1.2,7.05,0.3,7.1,-2.2,7.2,-0.6,7.3,-1.6,7.35,0.1,
7.1,1.5,7.15,2.3,7.2,0.9,7.25,2.8,7.3,1.8,7.4,2.5,7.45,1.1,7.5,2.0,7.55,2.9,7.6,1.4,7.7,2.2,7.75,0.8,7.8,2.7,7.85,1.6,7.9,2.0,
7.45,-0.8,7.5,-2.0,7.55,-1.2,7.6,-2.8,7.65,-0.4,7.7,-1.7,7.75,-2.4,7.8,-0.9,7.85,-3.0,7.9,-1.4];
const wrap407_b = [0.03,1.5,0.06,0.9,0.09,2.1,0.11,1.3,0.14,0.5,0.17,2.2,0.19,1.1,0.22,1.9,0.27,1.4,0.32,2.3,0.37,1.9,0.42,2.9,0.47,1.5,0.07,0.2,0.15,-0.1,0.25,0.1,0.04,-1.6,0.1,-2.6,
0.57,-2.7,0.62,-2.9,0.67,-2.4,0.72,-2.1,0.77,-2.6,0.82,-1.8,0.87,-2.2,0.92,-1.6,0.97,-1.9,1.02,-1.1,1.07,-1.5,1.12,-0.7,1.17,-1.0,1.22,-0.3,1.27,0.1,1.34,0.5,1.41,0.9,1.48,1.3,1.56,1.95,0.88,-2.8,1.03,-2.4,
1.67,-1.6,1.72,-0.9,1.77,-2.3,1.82,-1.1,1.87,-2.0,1.92,-1.4,1.97,-0.6,2.03,-1.4,2.07,-2.2,2.12,-0.8,2.18,-2.0,2.22,-1.2,2.27,-2.8,2.32,-1.7,2.37,-0.9,2.42,-2.3,2.47,-1.5,2.52,-2.5,1.73,-2.9,2.0,-0.3,2.4,-0.5,
2.52,2.4,2.58,2.2,2.63,2.7,
2.66,-2.8,2.74,-2.4,2.82,-2.0,2.9,-1.6,2.98,-1.2,3.06,-0.8,3.14,-0.45,3.22,-0.1,3.3,0.25,3.38,0.55,2.8,-2.7,2.97,-1.8,
3.32,1.0,3.37,0.5,3.42,1.3,3.47,0.4,3.52,0.9,3.57,-0.1,3.62,1.0,3.67,0.6,3.72,0.2,3.77,0.8,3.82,-0.2,3.87,0.6,3.92,0.3,3.97,1.2,4.02,-0.3,4.07,0.8,3.56,1.3,3.85,-0.6,3.72,1.2,
4.03,1.9,4.08,1.4,4.13,2.1,4.18,1.5,4.22,1.1,
4.32,-2.0,4.37,-2.9,4.42,-2.3,4.47,-1.7,4.52,-2.6,4.57,-1.8,4.62,-2.4,4.67,-2.9,4.72,-2.0,4.77,-2.6,4.82,-1.6,4.87,-2.4,4.42,-1.5,
4.815,1.7,4.845,1.1,4.875,0.5,4.905,-0.1,
5.015,1.65,5.045,1.0,5.08,0.35,5.115,-0.3,5.145,-0.9,5.18,-1.5,
5.3,0.5,5.36,-0.1,5.41,-0.7,5.46,-1.2,5.4,1.8,5.5,1.5,5.58,0.8,5.65,1.2,
5.72,-1.8,5.77,-1.2,5.82,-2.4,5.87,-1.5,5.92,-2.1,5.97,-2.8,6.02,-1.7,6.07,-2.3,6.13,-1.3,6.17,-2.4,6.22,-1.8,6.27,-2.7,6.32,-1.4,6.37,-2.0,6.42,-2.8,6.47,-1.9,5.8,-2.9,6.05,-1.0,
5.95,-0.1,6.05,-0.6,6.15,0.1,6.25,-0.4,6.35,-0.7,6.45,0.1,
6.45,0.7,6.52,1.25,6.58,1.75,6.65,2.2,
6.75,-1.4,6.82,-0.6,6.88,-2.2,6.95,-1.7,7.02,-0.5,7.08,-1.6,7.15,-0.9,7.25,-2.4,7.32,-0.9,
7.12,1.9,7.17,2.7,7.22,1.3,7.27,2.2,7.35,2.9,7.42,1.8,7.48,2.6,7.52,1.5,7.58,2.3,7.65,2.0,7.72,2.7,7.78,1.2,7.83,2.2,7.88,2.9,
7.47,-1.4,7.52,-2.6,7.57,-0.6,7.62,-2.0,7.67,-1.1,7.72,-2.9,7.77,-1.3,7.82,-2.1,7.87,-0.4];
const wrap407_c = [0.04,2.6,0.07,1.5,0.11,2.0,0.13,1.0,0.16,2.5,0.19,0.4,0.23,1.2,0.26,2.6,0.29,1.6,0.33,0.8,0.38,2.4,0.43,1.3,0.48,2.7,0.09,-0.4,0.18,0.1,0.28,-0.2,0.06,-1.9,
0.58,-2.4,0.63,-2.8,0.68,-2.0,0.73,-2.5,0.78,-1.7,0.83,-2.1,0.88,-1.3,0.93,-1.8,0.98,-1.4,1.03,-1.9,1.08,-0.9,1.13,-1.1,1.18,-0.6,1.23,-0.5,1.29,0.4,1.36,0.8,1.43,1.2,1.5,1.6,0.7,-1.5,0.9,-2.9,
1.68,-0.8,1.72,-2.5,1.76,-1.3,1.81,-1.9,1.86,-0.7,1.91,-2.6,1.96,-1.6,2.01,-1.0,2.06,-2.0,2.11,-1.5,2.16,-2.6,2.21,-0.5,2.26,-1.9,2.31,-2.4,2.36,-1.4,2.41,-1.8,2.46,-1.0,2.51,-1.3,2.53,-2.9,1.9,-3.0,2.2,-3.0,
2.68,-2.5,2.76,-2.1,2.84,-1.7,2.92,-1.3,3.0,-0.9,3.08,-0.5,3.16,-0.2,3.24,0.2,3.32,0.5,3.4,0.8,
3.31,0.6,3.34,1.4,3.38,0.9,3.41,0.0,3.44,0.8,3.48,1.2,3.53,0.3,3.58,1.1,3.63,-0.3,3.66,1.2,3.69,0.4,3.74,1.0,3.79,-0.1,3.83,0.8,3.88,1.3,3.91,0.1,3.96,0.4,4.01,0.9,4.06,0.2,4.09,-0.3,
4.02,1.2,4.07,1.7,4.12,1.8,4.17,1.2,4.23,1.8,
4.33,-2.6,4.38,-1.8,4.43,-2.6,4.48,-2.2,4.53,-1.9,4.58,-2.6,4.63,-2.1,4.68,-1.5,4.73,-2.8,4.78,-2.3,4.83,-2.6,4.88,-1.9,
4.82,1.5,4.85,0.9,4.88,0.3,5.02,1.8,5.05,0.9,5.09,0.2,5.12,-0.4,5.15,-1.0,
5.32,0.4,5.37,-0.2,5.42,-0.8,5.38,1.4,5.48,1.8,5.56,1.3,5.6,0.6,
5.73,-1.6,5.78,-2.6,5.83,-1.3,5.88,-2.2,5.93,-1.6,5.98,-2.0,6.03,-2.7,6.08,-1.5,6.14,-2.1,6.19,-1.3,6.24,-2.3,6.29,-1.7,6.34,-2.5,6.39,-1.2,6.44,-2.1,6.49,-2.7,6.02,-2.3,6.28,-2.9,
5.92,-0.3,6.02,-0.1,6.12,-0.5,6.22,-0.2,6.32,-0.5,6.42,-0.4,
6.44,0.5,6.5,1.1,6.57,1.6,6.64,2.1,
6.72,-1.2,6.78,-2.4,6.87,-1.0,6.93,-2.0,7.0,-2.6,7.06,-1.0,7.12,-1.9,7.22,-1.3,7.28,-2.2,7.36,-0.3,
7.11,2.2,7.16,1.2,7.21,2.4,7.26,1.6,7.31,2.4,7.37,1.4,7.43,2.2,7.49,1.3,7.53,2.5,7.58,1.9,7.63,2.6,7.68,1.6,7.73,2.0,7.8,1.5,7.86,2.5,
7.46,-2.3,7.51,-1.1,7.56,-2.1,7.61,-0.9,7.66,-2.6,7.71,-0.7,7.76,-1.9,7.81,-2.8,7.86,-1.7,7.89,-0.9];

// amplitude solutions (blue = pol 0, green = pol 1)
const ampA0_blue = [0.89,0.81,0.85,0.81,0.99,0.92,1.00,0.93,0.93,0.94,0.99,1.01,1.03,1.05,1.07,1.05,0.98,1.08,1.02,1.06,1.02,1.06,1.09,1.01,0.99,1.05,1.03,1.05,1.02,0.99,1.06,0.98,1.01,1.04,1.03,1.05,1.04,1.03,1.04,1.04,1.10,1.02,0.99,0.96,0.95,0.95,0.95,0.94,0.95,0.90,1.02,1.03,1.00,1.09,0.97,0.99,0.99,1.06,1.06,0.95];
const ampA0_green = [1.12,1.07,1.04,0.94,0.95,1.07,1.09,1.03,1.03,1.02,0.99,1.03,1.01,0.99,1.04,0.93,1.01,0.98,1.01,0.98,0.96,1.03,0.99,0.99,0.97,0.96,1.03,0.94,0.99,0.98,0.96,0.97,0.94,1.00,0.96,0.99,0.97,0.93,0.95,0.92,0.93,0.88,0.92,0.89,0.86,0.87,0.82,0.82,0.87,0.83,0.84,0.90,0.90,0.86,0.83,0.86,0.89,0.85,0.86,0.79];
const ampA1_blue = [0.89,0.85,0.89,0.86,0.91,1.01,1.00,0.98,1.03,0.96,1.02,1.02,0.99,0.97,1.07,1.09,1.07,1.04,0.99,1.02,1.05,1.04,1.05,1.07,1.11,1.02,1.00,1.03,1.06,0.99,1.02,1.00,1.03,1.06,0.99,1.03,0.91,0.95,1.04,0.97,0.98,0.96,1.03,1.05,1.07,1.03,1.06,0.98,0.95,1.04,1.04,0.96,1.02,1.06,0.94,1.03,0.96,1.06,1.03,1.02];
const ampA1_green = [0.98,0.99,0.94,1.04,1.05,1.09,1.07,1.05,1.06,1.04,0.99,1.04,1.03,0.94,0.92,0.98,1.00,0.95,1.02,1.02,1.04,1.02,1.06,1.01,1.03,1.02,1.01,1.02,1.01,1.02,1.02,1.01,1.01,1.02,1.01,1.01,0.96,0.89,0.92,0.87,0.87,0.90,0.82,0.89,0.94,0.91,0.80,0.83,0.86,0.85,0.82,0.81,0.90,0.80,0.83,0.85,0.82,0.81,0.90,0.80];
const ampR106_blue = [0.96,0.94,0.98,1.05,1.03,1.08,1.00,0.90,1.01,0.95,0.99,1.01,0.97,0.96,1.02,0.99,1.02,1.06,1.07,1.04,1.02,1.08,1.05,1.06,1.06,1.05,1.06,1.03,1.04,1.02,1.01,1.02,1.04,0.98,1.00,1.02,0.99,1.02,1.06,1.00,0.92,1.01,1.00,1.01,0.94,0.95,0.99,0.97,1.00,0.96,0.95,0.98,1.02,0.94,0.97,0.96,0.95,0.91,0.82,0.79];
const ampR106_green = [0.82,0.85,0.78,0.89,0.85,0.95,0.91,0.86,0.92,0.86,0.86,0.89,0.95,0.99,0.95,1.01,1.01,1.00,1.00,1.03,1.05,1.04,1.04,1.05,1.05,1.05,1.03,1.04,1.06,1.05,1.01,1.07,0.99,1.02,1.01,0.96,0.99,0.97,0.97,1.00,1.09,1.03,0.96,1.01,1.04,1.04,0.96,1.01,0.99,1.02,1.02,1.00,0.98,1.01,1.02,1.00,1.02,1.01,1.02,1.02];
const ampR205_blue = [1.02,1.02,1.04,1.02,1.03,1.02,1.01,1.06,1.01,1.03,1.02,1.01,0.98,1.02,1.05,1.07,1.10,1.11,1.13,1.12,1.13,1.12,1.09,1.11,1.09,1.10,1.11,1.10,1.12,1.06,1.15,1.09,1.10,1.06,1.05,0.97,1.10,1.00,1.11,1.10,1.10,1.11,1.06,1.05,1.09,0.98,1.01,1.04,1.06,1.10,1.05,1.04,0.95,1.00,0.94,0.84,0.81,0.84,0.81,0.83];
const ampR205_green = [0.88,0.88,0.88,0.88,0.88,0.89,0.90,0.90,0.97,0.93,0.94,1.01,0.97,1.02,1.05,1.09,1.06,1.10,1.11,1.14,1.11,1.09,1.11,1.07,1.04,1.12,1.11,1.11,1.07,1.11,1.09,1.08,1.04,1.03,1.08,1.07,1.04,1.15,1.09,1.07,1.12,1.00,1.18,1.14,1.17,1.05,1.12,1.06,0.97,0.91,0.96,1.06,1.09,1.06,1.09,1.06,1.08,1.05,1.09,1.06];
const ampR406_blue = [0.84,0.83,0.89,0.78,0.78,0.82,0.82,0.83,0.85,0.88,1.08,0.99,1.03,1.05,1.00,1.00,1.07,1.03,1.02,1.07,1.05,1.04,1.10,1.02,1.13,1.04,1.08,1.08,1.03,1.01,0.99,1.09,1.07,1.08,1.03,1.08,1.09,1.07,0.98,0.98,1.03,1.00,1.04,0.90,0.91,0.88,0.84,0.85,0.89,0.90,0.92,0.91,0.89,0.90,0.92,0.91,0.90,0.92,0.91,0.92];
const ampR406_green = [1.05,0.97,0.94,0.95,1.01,0.99,1.03,1.03,1.00,0.99,1.02,1.06,1.07,1.09,1.10,1.07,0.99,1.04,1.05,1.05,1.06,1.03,1.00,1.04,1.08,1.00,1.06,1.12,1.05,1.05,1.05,0.99,1.03,1.07,1.02,1.10,1.12,1.06,1.02,0.97,1.03,0.94,0.93,0.93,0.87,0.91,0.93,0.88,0.90,0.94,0.90,0.91,0.90,0.93,0.89,0.92,0.90,0.91,0.90,0.89];
const ampR407_blue = [0.93,0.90,1.05,0.93,1.03,1.01,1.01,0.98,0.96,1.07,1.15,1.16,1.14,1.10,1.17,1.16,1.16,1.15,1.07,1.10,1.15,1.10,1.13,1.06,1.11,1.15,1.13,1.13,1.15,1.04,1.12,1.09,1.15,1.12,1.13,1.11,1.02,1.04,1.12,1.05,1.03,1.12,1.10,1.05,0.93,0.88,0.88,0.89,0.79,0.79,0.88,0.83,0.92,0.93,0.97,0.94,0.93,0.89,0.93,0.89];
const ampR407_green = [1.06,1.08,0.97,0.97,0.99,1.00,1.04,1.05,1.08,1.12,1.04,1.03,1.06,1.15,1.15,1.08,1.16,1.15,1.06,1.15,1.05,1.13,1.10,1.10,1.13,1.15,1.17,1.13,1.11,1.12,1.11,1.16,1.10,1.17,1.16,1.06,1.08,0.99,1.11,1.08,1.12,1.11,1.03,1.08,1.07,1.07,1.04,1.00,1.02,0.97,1.06,1.04,1.08,1.02,0.98,1.03,1.00,1.03,1.08,1.10];

// phase solutions (rad)
const phA0_blue = [-0.07,0.04,0.11,0.08,0.04,0.04,0.04,-0.06,-0.08,-0.03,-0.09,-0.09,-0.09,-0.05,0.01,0.03,-0.09,-0.05,-0.07,-0.10,-0.09,-0.11,-0.03,-0.02,-0.04,-0.05,-0.02,-0.01,-0.02,0.03,0.04,-0.01,-0.02,0.01,-0.05,-0.01,-0.01,0.01,0.01,0.03,0.03,-0.02,-0.03,0.12,0.02,0.06,0.03,0.04,-0.02,0.10,0.09,0.14,0.14,0.09,-0.06,0.01,0.05,0.02,0.08,0.09];
const phA0_green = [-0.04,0.01,0.05,0.01,0.12,0.11,0.05,0.05,0.04,0.04,0.11,0.05,0.08,0.06,0.01,0.06,0.05,0.08,0.07,0.05,0.02,0.08,0.06,0.05,0.03,0.01,0.04,-0.01,-0.02,-0.03,-0.02,-0.03,-0.01,-0.02,-0.02,-0.01,0.00,-0.03,-0.03,-0.02,-0.06,-0.12,-0.05,-0.03,0.03,0.05,0.01,-0.07,0.04,-0.12,-0.07,0.00,-0.03,-0.12,-0.05,0.02,0.04,-0.03,-0.08,-0.12];
const phA1_blue = [0.18,0.16,0.06,0.03,0.04,0.04,0.03,-0.07,-0.03,-0.05,-0.07,-0.10,-0.04,-0.04,0.03,-0.10,-0.08,-0.07,-0.07,-0.07,-0.04,-0.03,-0.07,-0.02,-0.01,0.01,-0.01,0.01,-0.01,0.00,0.03,0.05,-0.03,-0.04,0.04,0.00,-0.02,-0.03,-0.03,-0.03,0.07,0.01,-0.03,0.01,0.04,0.11,-0.03,-0.02,0.03,0.10,0.02,-0.04,0.04,0.01,0.11,0.16,0.06,0.08,0.01,-0.10];
const phA1_green = [0.01,0.12,0.07,0.07,0.09,0.11,0.07,0.02,0.09,0.09,0.01,0.07,0.09,0.06,0.09,0.07,0.10,0.10,0.10,0.10,0.06,0.06,0.02,0.06,0.06,0.08,-0.03,-0.01,-0.02,-0.04,-0.02,-0.01,0.01,-0.02,-0.03,-0.06,-0.06,-0.06,-0.07,-0.09,-0.11,-0.02,0.01,-0.02,0.03,0.01,-0.07,-0.01,0.00,-0.01,-0.04,-0.10,0.01,-0.03,-0.05,0.02,-0.04,0.00,-0.08,-0.10];
const phR106_blue = [-0.10,-0.09,0.12,0.03,0.03,-0.10,0.07,-0.06,-0.15,-0.07,-0.03,-0.13,-0.03,-0.06,0.01,-0.03,0.04,-0.07,-0.03,-0.06,0.00,0.00,0.00,-0.02,-0.03,0.00,0.05,0.02,0.03,0.01,0.00,0.00,-0.03,-0.06,0.02,0.00,-0.03,0.00,-0.05,-0.03,0.02,-0.01,-0.11,0.05,0.11,0.07,0.02,0.04,0.00,0.02,0.13,0.15,0.10,0.04,0.01,-0.03,0.08,0.13,0.10,-0.09];
const phR106_green = [0.03,0.13,0.14,0.07,-0.09,0.08,0.05,0.12,0.05,0.05,0.09,0.02,0.02,0.08,0.01,0.00,0.03,0.08,0.02,0.03,0.02,0.00,0.03,0.02,0.02,0.02,0.00,0.00,-0.06,0.00,-0.07,0.04,0.02,0.00,0.03,0.00,0.03,0.02,0.00,0.03,0.01,-0.02,0.12,0.11,0.07,0.07,0.03,-0.03,0.07,0.04,-0.03,-0.06,-0.11,-0.09,-0.05,0.02,-0.02,-0.03,-0.06,-0.09];
const phR205_blue = [-0.13,0.07,0.05,0.03,0.03,0.08,0.05,-0.08,-0.04,-0.05,-0.06,-0.10,0.01,-0.01,0.03,0.04,0.02,0.00,0.02,0.00,-0.06,-0.01,0.00,-0.02,-0.03,0.01,0.00,0.00,-0.04,0.04,0.08,0.01,0.00,0.02,0.05,0.05,0.02,0.04,-0.08,-0.03,-0.09,0.02,0.08,0.06,-0.03,0.04,0.00,-0.07,0.02,0.09,0.00,0.04,0.02,-0.04,0.01,0.09,0.00,0.04,-0.20,-0.21];
const phR205_green = [-0.05,0.10,0.17,-0.01,-0.06,0.10,0.07,0.05,0.02,0.07,0.02,0.03,0.02,0.01,0.02,0.02,0.03,0.02,0.02,-0.03,0.00,-0.03,-0.01,0.00,0.00,0.00,-0.06,-0.04,-0.02,-0.03,0.00,0.00,-0.01,0.00,0.02,0.03,0.02,-0.02,-0.06,-0.08,-0.09,-0.04,0.00,0.11,0.07,0.06,0.07,-0.03,-0.04,-0.05,-0.08,-0.09,-0.06,-0.05,-0.03,-0.08,-0.06,-0.05,-0.09,-0.06];
const phR406_blue = [-0.04,-0.05,0.03,0.04,0.07,0.01,0.00,0.03,0.00,-0.01,0.00,0.02,-0.01,-0.02,-0.04,-0.03,-0.01,-0.01,-0.05,-0.08,-0.07,-0.02,0.00,-0.15,-0.01,-0.07,0.00,0.04,0.05,-0.01,0.02,0.08,0.03,0.02,0.05,-0.02,0.01,0.03,0.09,0.07,0.05,0.09,0.07,0.05,-0.01,0.11,0.10,0.15,0.14,0.11,0.15,0.14,0.11,0.08,0.11,0.09,0.12,0.15,0.21,0.01];
const phR406_green = [0.05,0.04,0.15,0.01,0.02,0.10,0.05,0.02,-0.06,-0.03,-0.08,0.10,-0.08,0.00,0.02,-0.01,-0.02,0.04,0.05,0.05,0.05,0.03,0.04,0.05,-0.01,0.02,0.03,-0.02,-0.03,0.02,0.04,0.03,-0.08,0.07,-0.02,-0.10,-0.10,-0.01,-0.07,-0.02,-0.13,-0.12,-0.22,-0.05,0.03,0.04,-0.05,0.05,0.03,-0.07,0.04,-0.04,-0.10,-0.06,-0.02,-0.16,-0.14,-0.05,-0.07,-0.12];
const phR407_blue = [-0.07,0.10,0.10,0.00,0.03,-0.05,0.00,-0.09,0.07,0.07,0.10,0.05,0.01,0.10,0.03,-0.07,-0.01,0.15,-0.06,-0.08,-0.01,-0.02,-0.08,-0.07,-0.08,-0.07,-0.05,-0.02,0.03,0.02,0.09,-0.01,-0.06,0.00,0.03,0.00,0.01,0.05,0.00,0.07,0.04,0.02,0.15,0.13,0.03,0.11,-0.06,0.04,-0.08,0.07,0.00,-0.06,0.02,0.08,-0.03,0.05,0.01,-0.04,-0.06,-0.12];
const phR407_green = [0.05,0.21,0.06,-0.03,0.10,0.04,-0.03,-0.03,-0.09,-0.15,-0.08,0.03,-0.02,-0.02,0.11,0.01,-0.08,0.03,0.05,-0.02,0.01,0.04,0.07,0.00,0.09,0.02,-0.02,0.08,-0.06,-0.08,0.05,0.05,0.00,-0.07,-0.03,-0.07,-0.02,-0.07,-0.01,-0.12,0.03,0.04,0.01,-0.02,0.00,-0.04,0.01,-0.02,0.03,-0.03,0.04,0.00,-0.10,-0.05,0.02,-0.03,0.04,-0.06,-0.10,-0.05];

// ---------------- LAYOUT ----------------
const FONT = '"Liberation Serif", "Times New Roman", serif';
const GROUP_LEFT = [58, 505.7, 953.3];
const PW = 176.5, PH = 156.67;
const ROW_TOP = [6, 162.67, 319.33];
const XMAX = 7.93;
const Y_RANGE = [[-Math.PI, Math.PI], [0.73, 1.27], [-0.5, 0.5]];
const Y_MAJOR = [[-3,-2,-1,0,1,2,3], [0.8,0.9,1.0,1.1,1.2], [-0.4,-0.2,0,0.2,0.4]];
const Y_MINOR = [[-2.5,-1.5,-0.5,0.5,1.5,2.5], [0.75,0.85,0.95,1.05,1.15,1.25], [-0.3,-0.1,0.1,0.3]];
const Y_LABELS = [[-2,0,2], [0.8,1.0,1.2], [-0.4,-0.2,0,0.2,0.4]];
const X_MINOR = [0.5,1.5,2.5,3.5,4.5,5.5,6.5,7.5];
const minus = s => s.replace('-', '\u2212');
const Y_FMT = [v => minus(String(Math.round(v))), v => v.toFixed(1), v => minus(v.toFixed(1))];
const BLUE = '#0000ff', GREEN = '#008000';

function pairs(flat){ const o=[]; for(let i=0;i<flat.length;i+=2) o.push([flat[i], flat[i+1]]); return o; }
function zipT(ts, vs, off){ return vs.map((v,i)=>[ts[i]+(off||0), v]); }
function csLayers(layers){ let o=[]; layers.forEach((l,k)=>{ o = o.concat(zipT(csTimes, l, csLayerOffsets[k])); }); return o; }
function allPairs(){ let o=[]; for (const a of arguments) o = o.concat(pairs(a)); return o; }

const LEFT_DATA = [[csLayers([cs0_a,cs0_b,cs0_c,cs0_d,cs0_e,cs0_f,cs0_g,cs0_h]), csLayers([cs1_a,cs1_b,cs1_c,cs1_d,cs1_e,cs1_f,cs1_g,cs1_h])],
                   [allPairs(wrap106, wrap106_b, wrap106_c), allPairs(wrap205, wrap205_b, wrap205_c)],
                   [allPairs(wrap406, wrap406_b, wrap406_c), allPairs(wrap407, wrap407_b, wrap407_c)]];
const AMP = [[[ampA0_blue,ampA0_green],[ampA1_blue,ampA1_green]],
             [[ampR106_blue,ampR106_green],[ampR205_blue,ampR205_green]],
             [[ampR406_blue,ampR406_green],[ampR407_blue,ampR407_green]]];
const PHS = [[[phA0_blue,phA0_green],[phA1_blue,phA1_green]],
             [[phR106_blue,phR106_green],[phR205_blue,phR205_green]],
             [[phR406_blue,phR406_green],[phR407_blue,phR407_green]]];

const grids=[], xAxes=[], yAxes=[], series=[], graphics=[];
const meas = document.createElement('canvas').getContext('2d');
meas.font = '19px ' + FONT;

function axis(gi, pos, min, max, ticks, len, labels, fmt, showLine){
  const a = {type:'value', gridIndex:gi, position:pos, min:min, max:max, z:60,
    axisLine:{show:showLine, onZero:false, lineStyle:{color:'#000', width:1.8}},
    axisTick:{show:true, inside:true, length:len, customValues:ticks, lineStyle:{color:'#000', width:1}},
    splitLine:{show:false}, minorTick:{show:false}};
  if (labels) a.axisLabel = {show:true, customValues:labels, formatter:fmt, fontFamily:FONT, fontSize:16, color:'#1a1a1a', margin:(pos==='bottom'?5:6)};
  else a.axisLabel = {show:false};
  return a;
}

for (let g=0; g<3; g++) for (let r=0; r<3; r++) for (let c=0; c<2; c++) {
  const gi = grids.length;
  const left = GROUP_LEFT[g] + c*PW, top = ROW_TOP[r];
  grids.push({left:left, top:top, width:PW, height:PH});
  const [ymin, ymax] = Y_RANGE[g];
  const bx = r===2 ? xTickLabels : null;
  const ly = c===0 ? Y_LABELS[g] : null;
  const xi = xAxes.length, yi = yAxes.length;
  xAxes.push(axis(gi,'bottom',0,XMAX,xTickLabels,5,bx,v=>String(v),true));
  xAxes.push(axis(gi,'bottom',0,XMAX,X_MINOR,3,null,null,false));
  xAxes.push(axis(gi,'top',0,XMAX,xTickLabels,5,null,null,true));
  xAxes.push(axis(gi,'top',0,XMAX,X_MINOR,3,null,null,false));
  yAxes.push(axis(gi,'left',ymin,ymax,Y_MAJOR[g],5,ly,Y_FMT[g],true));
  yAxes.push(axis(gi,'left',ymin,ymax,Y_MINOR[g],3,null,null,false));
  yAxes.push(axis(gi,'right',ymin,ymax,Y_MAJOR[g],5,null,null,true));
  yAxes.push(axis(gi,'right',ymin,ymax,Y_MINOR[g],3,null,null,false));

  if (g===0) {
    series.push({type:'scatter', xAxisIndex:xi, yAxisIndex:yi, data:LEFT_DATA[r][c], symbol:'circle', symbolSize:2.4,
      itemStyle:{color:BLUE, opacity:1}, silent:true, clip:true});
  } else {
    const src = g===1 ? AMP[r][c] : PHS[r][c];
    [BLUE, GREEN].forEach((col,k)=>{
      series.push({type:'scatter', xAxisIndex:xi, yAxisIndex:yi, data:zipT(T60, src[k]), symbol:'circle', symbolSize:[8,5.6],
        itemStyle:{color:col, opacity:1}, silent:true, clip:true});
    });
  }
  // title with white background box
  const name = stationNames[r][c];
  const cx = left + PW/2;
  const w = meas.measureText(name).width + 10;
  graphics.push({type:'rect', z:50, silent:true, shape:{x:cx-w/2, y:top+1, width:w, height:27}, style:{fill:'#fff'}});
  graphics.push({type:'text', z:51, silent:true, x:cx, y:top+15,
    style:{text:name, font:'19px '+FONT, fill:'#1a1a1a', textAlign:'center', textVerticalAlign:'middle', align:'center', verticalAlign:'middle'}});
}

function label(text, x, y, rot){
  graphics.push({type:'text', z:51, silent:true, x:x, y:y, rotation:rot||0,
    style:{text:text, font:'19px '+FONT, fill:'#1a1a1a', textAlign:'center', textVerticalAlign:'middle', align:'center', verticalAlign:'middle'}});
}
label('Phase [rad]', 18, 254, Math.PI/2);
label('Amplitude', 465, 254, Math.PI/2);
label('Phase [rad]', 911, 255, Math.PI/2);
label('Time [hr]', GROUP_LEFT[0]+PW, 509);
label('Time [hr]', GROUP_LEFT[1]+PW, 509);
label('Time [hr]', GROUP_LEFT[2]+PW, 509);

const chart = echarts.init(document.getElementById('c'), null, {renderer:'canvas'});
chart.setOption({backgroundColor:'#fff', animation:false, grid:grids, xAxis:xAxes, yAxis:yAxes, series:series, graphic:graphics});
</script></body></html>
